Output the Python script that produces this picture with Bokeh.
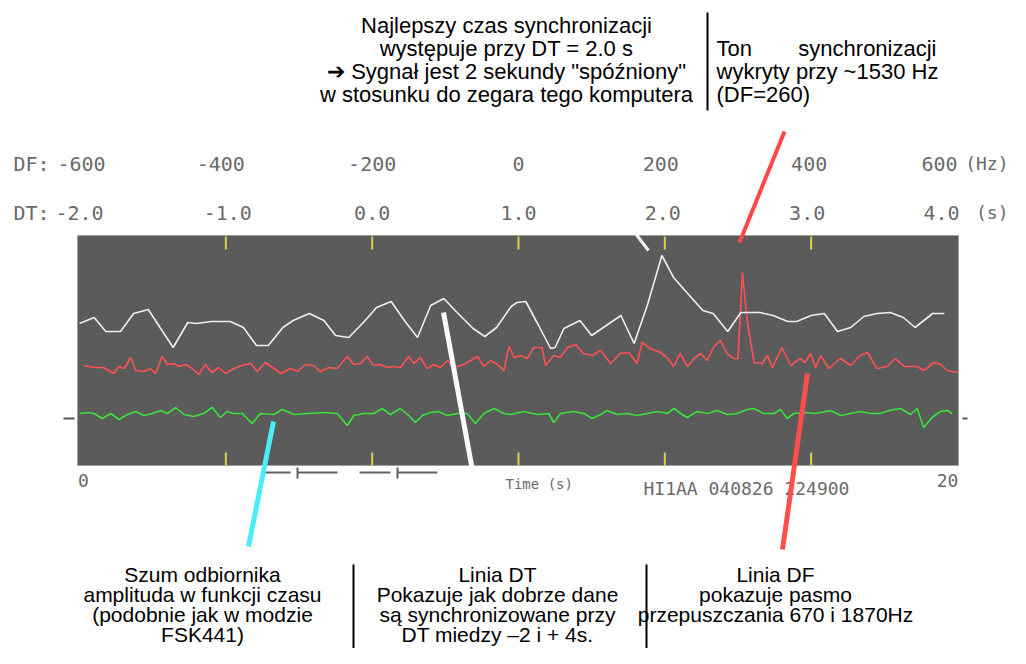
from bokeh.plotting import figure
from bokeh.models import Range1d, ColumnDataSource
from bokeh.core.properties import value
from bokeh.embed import file_html
from bokeh.resources import INLINE

# ---------------- data ----------------
DF_TICKS = [-600, -400, -200, 0, 200, 400, 600]
DF_LABELS = ["-600", "-400", "-200", "0", "200", "400", "600"]
DT_TICKS = [-2, -1, 0, 1, 2, 3, 4]
DT_LABELS = ["-2.0", "-1.0", "0.0", "1.0", "2.0", "3.0", "4.0"]
GRID_DT = [-1, 0, 1, 2, 3]
TIME_LABELS = ["0", "20"]
TIME_TICKS = [0, 20]

# white: sync vs DT (s)
WHITE_DT = [-2.00, -1.90, -1.82, -1.72, -1.63, -1.53, -1.45, -1.36, -1.26, -1.20,
            -1.10, -0.97, -0.88, -0.79, -0.71, -0.61, -0.54, -0.43, -0.33, -0.25,
            -0.16, -0.06, 0.03, 0.13, 0.22, 0.31, 0.40, 0.49, 0.58, 0.69,
            0.77, 0.85, 0.95, 0.99, 1.05, 1.13, 1.22, 1.25, 1.31, 1.42,
            1.50, 1.58, 1.70, 1.79, 1.88, 1.98, 2.06, 2.15, 2.26, 2.33,
            2.43, 2.52, 2.65, 2.74, 2.84, 2.90, 3.00, 3.09, 3.18, 3.27,
            3.36, 3.45, 3.54, 3.63, 3.71, 3.83, 3.91]
WHITE_SYNC = [142, 148, 134, 134, 152, 156, 138, 118, 143, 142,
              144, 144, 138, 120, 120, 138, 145, 152, 145, 130,
              128, 143, 158, 164, 145, 128, 160, 167, 153, 137,
              129, 138, 159, 163, 164, 142, 117, 118, 137, 145,
              130, 138, 150, 122, 160, 210, 188, 173, 155, 152,
              134, 153, 153, 150, 144, 144, 150, 152, 134, 138,
              149, 152, 153, 148, 138, 152, 152]

# red: sync vs DF (Hz)
RED_DF = [-594, -580, -567, -553, -546, -539, -530, -523, -512, -503,
          -496, -487, -480, -471, -464, -455, -446, -437, -428, -419,
          -410, -400, -389, -378, -366, -357, -346, -334, -325, -312,
          -302, -291, -280, -271, -259, -248, -234, -225, -216, -207,
          -198, -189, -179, -170, -161, -150, -143, -134, -125, -116,
          -107, -97, -88, -75, -56, -47, -38, -29, -20, -13,
          -6, 3, 12, 21, 32, 37, 48, 57, 67, 78,
          89, 101, 112, 126, 139, 151, 162, 169, 180, 194,
          203, 212, 221, 231, 240, 249, 258, 267, 276, 285,
          294, 300, 306, 313, 322, 333, 340, 347, 360, 372,
          385, 392, 399, 406, 413, 424, 440, 454, 467, 477,
          490, 504, 515, 527, 545, 554, 568, 577, 586, 600]
RED_SYNC = [100, 98, 98, 92, 99, 97, 108, 95, 94, 97,
            92, 109, 101, 102, 99, 101, 97, 91, 101, 93,
            98, 92, 97, 100, 102, 94, 103, 97, 92, 97,
            94, 101, 100, 94, 98, 97, 109, 101, 102, 109,
            100, 101, 98, 99, 98, 109, 102, 108, 97, 101,
            98, 105, 98, 101, 109, 99, 105, 101, 95, 119,
            108, 110, 107, 118, 118, 100, 110, 108, 118, 121,
            112, 110, 115, 102, 112, 113, 102, 123, 117, 113,
            108, 99, 112, 99, 107, 112, 105, 119, 125, 112,
            107, 107, 193, 142, 103, 102, 110, 98, 118, 100,
            107, 103, 112, 98, 110, 97, 107, 100, 110, 113,
            97, 99, 107, 99, 99, 95, 103, 101, 95, 93]

# green: receiver noise amplitude vs time (s)
GREEN_T = [0.00, 0.18, 0.33, 0.52, 0.71, 0.90, 1.09, 1.28, 1.46, 1.66,
           1.85, 2.00, 2.19, 2.38, 2.60, 2.83, 3.02, 3.21, 3.36, 3.51,
           3.71, 3.93, 4.12, 4.43, 4.62, 4.73, 4.88, 5.19, 5.57, 5.87,
           6.10, 6.25, 6.48, 6.70, 6.90, 7.08, 7.31, 7.50, 7.65, 7.81,
           8.00, 8.18, 8.38, 8.60, 8.83, 9.02, 9.21, 9.44, 9.67, 9.82,
           10.12, 10.43, 10.69, 10.80, 10.96, 11.26, 11.49, 11.68, 11.87, 12.02,
           12.25, 12.48, 12.70, 12.93, 13.16, 13.39, 13.54, 13.73, 13.84, 14.07,
           14.30, 14.53, 14.75, 14.98, 15.21, 15.36, 15.59, 15.82, 15.97, 16.12,
           16.27, 16.50, 16.73, 16.88, 17.11, 17.34, 17.56, 17.79, 18.02, 18.25,
           18.44, 18.70, 18.93, 19.08, 19.23, 19.42, 19.61, 19.77, 19.88]
GREEN_AMP = [52, 53, 52, 47, 52, 46, 51, 54, 50, 52,
             55, 52, 58, 51, 49, 52, 58, 48, 54, 52,
             52, 42, 52, 51, 56, 54, 51, 52, 53, 52,
             40, 50, 52, 52, 57, 51, 57, 50, 43, 50,
             53, 54, 50, 52, 52, 42, 52, 57, 52, 51,
             54, 51, 52, 43, 52, 54, 52, 47, 51, 55,
             51, 52, 50, 52, 54, 52, 57, 51, 48, 54,
             52, 55, 51, 52, 56, 57, 52, 52, 56, 47,
             52, 53, 52, 53, 55, 50, 52, 54, 52, 52,
             55, 57, 51, 57, 38, 48, 54, 55, 52]

TOP_LEFT_TEXT = ["Najlepszy czas synchronizacji",
                 "występuje przy DT = 2.0 s",
                 "\u2794 Sygnał jest 2 sekundy \"spóźniony\"",
                 "w stosunku do zegara tego komputera"]
TOP_RIGHT_TEXT = ["wykryty przy ~1530 Hz", "(DF=260)"]
COL1_TEXT = ["Szum odbiornika", "amplituda w funkcji czasu",
             "(podobnie jak w modzie", "FSK441)"]
COL2_TEXT = ["Linia DT", "Pokazuje jak dobrze dane",
             "są synchronizowane przy", "DT miedzy \u20132 i + 4s."]
COL3_TEXT = ["Linia DF", "pokazuje pasmo", "przepuszczania 670 i 1870Hz"]
FILE_ID = "HI1AA  040826 224900"

# ---------------- layout (picture pixel coordinates) ----------------
W, H = 1010, 648
X0, Y0 = 0, 0
PX_L, PX_R = 79, 957        # panel ends (DT -2 .. 4)
PY_BASE, PY_TOP = 465, 236  # panel bottom / top

def rng(v0, v1, p0, p1):
    s = (p1 - p0) / (v1 - v0)
    return Range1d(v0 + (X0 - p0) / s, v0 + (X0 + W - p0) / s)

p = figure(width=W, height=H, x_range=Range1d(X0, X0 + W), y_range=Range1d(Y0 + H, Y0),
           output_backend="svg", toolbar_location=None, tools="", min_border=0,
           outline_line_color=None, x_axis_location=None, y_axis_location=None,
           background_fill_color="white", border_fill_color="white")
p.grid.visible = False
p.extra_x_ranges = {"dt": rng(-2, 4, PX_L, PX_R),
                    "df": rng(-600, 600, PX_L, PX_R),
                    "t": rng(0, 20, PX_L, PX_R)}
p.extra_y_ranges = {"amp": Range1d(PY_BASE - (Y0 + H), PY_BASE - Y0)}

SANS = value("Liberation Sans")
MONO = value("DejaVu Sans Mono")
GREY = "#6a6a6a"

# panel
p.quad(left=[PX_L - 2], right=[PX_R + 1], top=[PY_TOP - 1], bottom=[PY_BASE],
       fill_color="#5b5b5b", line_color="#a0a0a0", line_width=1)

# yellow ticks
n = len(GRID_DT)
p.segment(x0=GRID_DT, x1=GRID_DT, y0=[229] * n, y1=[216] * n, x_range_name="dt",
          y_range_name="amp", line_color="#d8d048", line_width=2)
p.segment(x0=GRID_DT, x1=GRID_DT, y0=[0] * n, y1=[13] * n, x_range_name="dt",
          y_range_name="amp", line_color="#d8d048", line_width=2)

# side marks at the noise level
p.segment(x0=[63, 962], x1=[74, 967], y0=[47, 47], y1=[47, 47], y_range_name="amp",
          line_color="#555555", line_width=2)

# traces
p.line(GREEN_T, GREEN_AMP, x_range_name="t", y_range_name="amp",
       line_color="#3ce03c", line_width=1.6)
p.line(RED_DF, RED_SYNC, x_range_name="df", y_range_name="amp",
       line_color="#ff5252", line_width=1.6)
p.line(WHITE_DT, WHITE_SYNC, x_range_name="dt", y_range_name="amp",
       line_color="#eeeef6", line_width=1.6)

# scale header rows
src_df = ColumnDataSource(dict(x=DF_TICKS, y=[163] * 7, t=DF_LABELS,
                               off=[2, -5, 0, 0, -4, -2, -18]))
p.text(x="x", y="y", text="t", x_offset="off", source=src_df, x_range_name="df",
       text_align="center", text_baseline="middle", text_font=MONO,
       text_font_size="20px", text_color=GREY)
src_dt = ColumnDataSource(dict(x=DT_TICKS, y=[212] * 7, t=DT_LABELS,
                               off=[0, 2, 0, 0, -2, -4, -16]))
p.text(x="x", y="y", text="t", x_offset="off", source=src_dt, x_range_name="dt",
       text_align="center", text_baseline="middle", text_font=MONO,
       text_font_size="20px", text_color=GREY)
p.text(x=[13, 13], y=[163, 212], text=["DF:", "DT:"],
       text_align="left", text_baseline="middle", text_font=MONO,
       text_font_size="20px", text_color=GREY)
p.text(x=[1008, 1008], y=[163, 212], text=["(Hz)", "(s)"],
       text_align="right", text_baseline="middle", text_font=MONO,
       text_font_size="18px", text_color=GREY)

# time axis under panel
p.text(x=TIME_TICKS, y=[480, 480], text=TIME_LABELS, x_range_name="t",
       text_align="center", text_baseline="middle", text_font=MONO,
       text_font_size="18px", text_color=GREY, x_offset=[4, -10])
p.text(x=[505], y=[483], text=["Time (s)"], text_align="left", text_baseline="middle",
       text_font=MONO, text_font_size="14px", text_color=GREY)
p.text(x=[643], y=[488], text=[FILE_ID], text_align="left", text_baseline="middle",
       text_font=MONO, text_font_size="18px", text_color=GREY)
p.segment(x0=[262, 297, 359, 397], x1=[290, 337, 390, 437], y0=[472] * 4, y1=[472] * 4,
          line_color="#606060", line_width=2)
p.segment(x0=[297, 397], x1=[297, 397], y0=[467, 467], y1=[478, 478],
          line_color="#606060", line_width=2)

# annotation pointers
p.segment(x0=[784], y0=[131], x1=[739], y1=[242], line_color="#ff4848", line_width=4)
p.segment(x0=[635], y0=[233], x1=[648], y1=[250], line_color="#f6f6ff", line_width=3)
p.segment(x0=[443], y0=[312], x1=[472], y1=[470], line_color="#f8f8ff", line_width=5)
p.segment(x0=[273], y0=[421], x1=[248], y1=[546], line_color="#48eef8", line_width=5)
p.segment(x0=[807], y0=[373], x1=[782], y1=[549], line_color="#ff4d4d", line_width=5)

# dividers
p.segment(x0=[707, 353, 646], x1=[707, 353, 646], y0=[12, 564, 564], y1=[110, 660, 660],
          line_color="black", line_width=2)

# captions (y = vertical centre of each line)
def caption(lines, x, y0, dy, align, size):
    p.text(x=[x] * len(lines), y=[y0 + i * dy for i in range(len(lines))], text=lines,
           text_align=align, text_baseline="middle", text_font=SANS,
           text_font_size=size, text_color="black")

caption(TOP_LEFT_TEXT, 506, 25, 23, "center", "22px")
caption(["Ton"], 716, 48, 23, "left", "22px")
caption(["synchronizacji"], 936, 48, 23, "right", "22px")
caption(TOP_RIGHT_TEXT, 716, 71, 23, "left", "22px")
caption(COL1_TEXT, 202, 574, 20, "center", "21px")
caption(COL2_TEXT, 497, 574, 20, "center", "21px")
caption(COL3_TEXT, 775, 574, 20, "center", "21px")

open("out.html", "w").write(file_html(p, INLINE))
